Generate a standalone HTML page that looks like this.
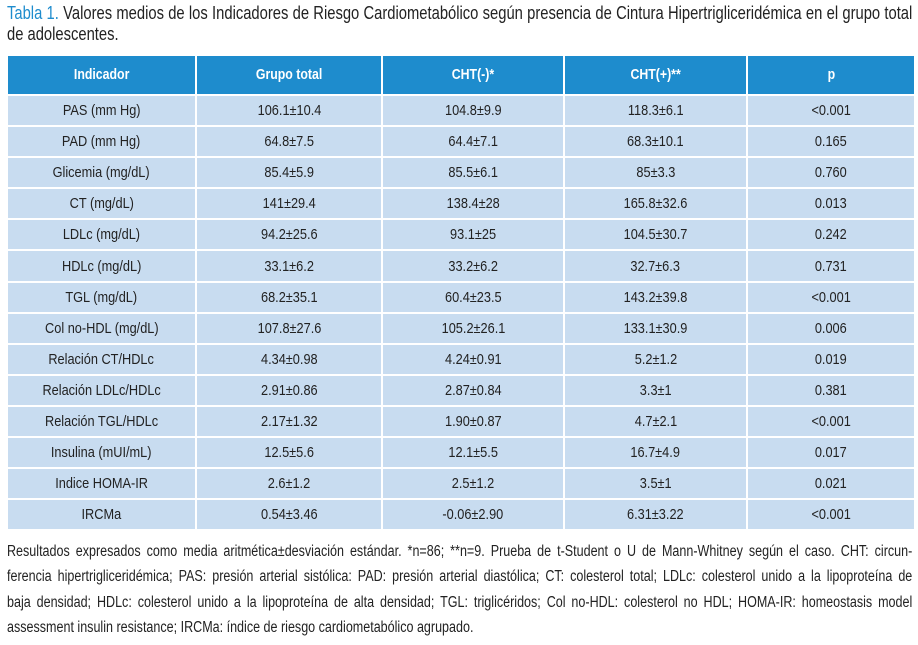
<!DOCTYPE html>
<html><head><meta charset="utf-8"><style>
body{margin:0;width:918px;height:645px;background:#fff;overflow:hidden;font-family:"Liberation Sans",sans-serif;color:#222}
.sc{position:absolute;left:7px;transform-origin:0 0;transform:scaleX(0.82);white-space:nowrap}
#title{top:3px;width:1104px;font-size:18px;line-height:21px}
#title b{color:#1e8ccd;font-weight:normal}
.ln{display:block;text-align:justify;text-align-last:justify}
.last{text-align-last:left}
table{position:absolute;left:6px;top:54px;border-collapse:collapse;table-layout:fixed;width:908px}
td,th{border:2.5px solid #fff;text-align:center;font-size:15px;padding:0;height:29.1px;background:#c8dcf0;font-weight:normal}
th{background:#1e8ccd;color:#fff;font-weight:bold;height:38px;font-size:14.5px}
td span,th span{display:inline-block;transform:scaleX(0.85)}
#foot{top:539px;width:1104px;font-size:15.3px;line-height:25.3px}
</style></head><body>
<div id="title" class="sc"><span class="ln"><b>Tabla 1.</b> Valores medios de los Indicadores de Riesgo Cardiometabólico según presencia de Cintura Hipertrigliceridémica en el grupo total</span><span class="ln last">de adolescentes.</span></div>
<table>
<colgroup><col style="width:189px"><col style="width:186px"><col style="width:182px"><col style="width:183px"><col style="width:168px"></colgroup>
<tr><th><span>Indicador</span></th><th><span>Grupo total</span></th><th><span>CHT(-)*</span></th><th><span>CHT(+)**</span></th><th><span>p</span></th></tr>
<tr><td><span>PAS (mm Hg)</span></td><td><span>106.1±10.4</span></td><td><span>104.8±9.9</span></td><td><span>118.3±6.1</span></td><td><span>&lt;0.001</span></td></tr>
<tr><td><span>PAD (mm Hg)</span></td><td><span>64.8±7.5</span></td><td><span>64.4±7.1</span></td><td><span>68.3±10.1</span></td><td><span>0.165</span></td></tr>
<tr><td><span>Glicemia (mg/dL)</span></td><td><span>85.4±5.9</span></td><td><span>85.5±6.1</span></td><td><span>85±3.3</span></td><td><span>0.760</span></td></tr>
<tr><td><span>CT (mg/dL)</span></td><td><span>141±29.4</span></td><td><span>138.4±28</span></td><td><span>165.8±32.6</span></td><td><span>0.013</span></td></tr>
<tr><td><span>LDLc (mg/dL)</span></td><td><span>94.2±25.6</span></td><td><span>93.1±25</span></td><td><span>104.5±30.7</span></td><td><span>0.242</span></td></tr>
<tr><td><span>HDLc (mg/dL)</span></td><td><span>33.1±6.2</span></td><td><span>33.2±6.2</span></td><td><span>32.7±6.3</span></td><td><span>0.731</span></td></tr>
<tr><td><span>TGL (mg/dL)</span></td><td><span>68.2±35.1</span></td><td><span>60.4±23.5</span></td><td><span>143.2±39.8</span></td><td><span>&lt;0.001</span></td></tr>
<tr><td><span>Col no-HDL (mg/dL)</span></td><td><span>107.8±27.6</span></td><td><span>105.2±26.1</span></td><td><span>133.1±30.9</span></td><td><span>0.006</span></td></tr>
<tr><td><span>Relación CT/HDLc</span></td><td><span>4.34±0.98</span></td><td><span>4.24±0.91</span></td><td><span>5.2±1.2</span></td><td><span>0.019</span></td></tr>
<tr><td><span>Relación LDLc/HDLc</span></td><td><span>2.91±0.86</span></td><td><span>2.87±0.84</span></td><td><span>3.3±1</span></td><td><span>0.381</span></td></tr>
<tr><td><span>Relación TGL/HDLc</span></td><td><span>2.17±1.32</span></td><td><span>1.90±0.87</span></td><td><span>4.7±2.1</span></td><td><span>&lt;0.001</span></td></tr>
<tr><td><span>Insulina (mUI/mL)</span></td><td><span>12.5±5.6</span></td><td><span>12.1±5.5</span></td><td><span>16.7±4.9</span></td><td><span>0.017</span></td></tr>
<tr><td><span>Indice HOMA-IR</span></td><td><span>2.6±1.2</span></td><td><span>2.5±1.2</span></td><td><span>3.5±1</span></td><td><span>0.021</span></td></tr>
<tr><td><span>IRCMa</span></td><td><span>0.54±3.46</span></td><td><span>-0.06±2.90</span></td><td><span>6.31±3.22</span></td><td><span>&lt;0.001</span></td></tr>
</table>
<div id="foot" class="sc"><span class="ln">Resultados expresados como media aritmética±desviación estándar. *n=86; **n=9. Prueba de t-Student o U de Mann-Whitney según el caso. CHT: circun-</span><span class="ln">ferencia hipertrigliceridémica; PAS: presión arterial sistólica: PAD: presión arterial diastólica; CT: colesterol total; LDLc: colesterol unido a la lipoproteína de</span><span class="ln">baja densidad; HDLc: colesterol unido a la lipoproteína de alta densidad; TGL: triglicéridos; Col no-HDL: colesterol no HDL; HOMA-IR: homeostasis model</span><span class="ln last">assessment insulin resistance; IRCMa: índice de riesgo cardiometabólico agrupado.</span></div>
</body></html>
